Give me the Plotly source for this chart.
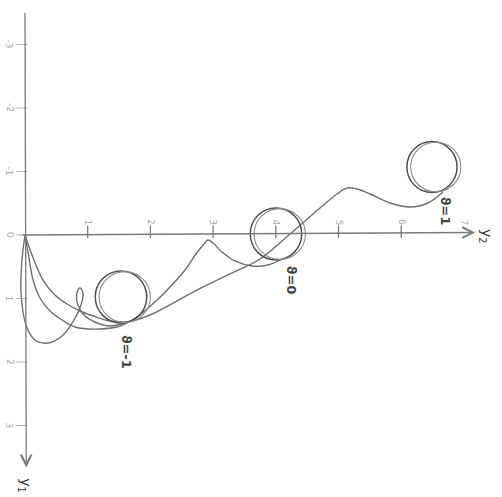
import plotly.graph_objects as go

# Trajectories in the (y2, y1) plane for three values of theta
traj_m1_y2 = [0.0, -0.048, -0.064, 0.016, 0.159, 0.367, 0.590, 0.781, 0.893, 0.925, 0.877, 0.829, 0.845, 0.941, 1.116, 1.356, 1.579]
traj_m1_y1 = [0.0, 0.394, 0.898, 1.417, 1.654, 1.701, 1.591, 1.339, 1.102, 0.913, 0.835, 0.913, 1.102, 1.260, 1.370, 1.433, 1.386]

traj_0_y2 = [0.0, 0.064, 0.128, 0.239, 0.399, 0.590, 0.797, 1.196, 1.515, 1.786, 2.073, 2.313, 2.552, 2.727, 2.855, 2.919, 2.998, 3.142, 3.349, 3.620, 3.876, 4.099]
traj_0_y1 = [0.0, 0.362, 0.709, 0.992, 1.197, 1.339, 1.449, 1.480, 1.433, 1.291, 1.055, 0.819, 0.551, 0.299, 0.142, 0.079, 0.126, 0.268, 0.409, 0.488, 0.472, 0.378]

traj_p1_y2 = [0.0, 0.112, 0.287, 0.478, 0.670, 0.877, 1.085, 1.356, 1.627, 1.994, 2.711, 3.270, 3.748, 4.226, 4.705, 4.976, 5.136, 5.295, 5.502, 5.821, 6.140, 6.427, 6.667]
traj_p1_y1 = [0.0, 0.315, 0.709, 0.945, 1.087, 1.197, 1.276, 1.355, 1.370, 1.260, 0.882, 0.614, 0.378, -0.016, -0.425, -0.646, -0.740, -0.724, -0.646, -0.504, -0.441, -0.504, -0.677]

# Limit cycles: centre (y2, y1) and radius
cycle_theta = ["ϑ=-1", "ϑ=0", "ϑ=1"]
cycle_y2 = [1.531, 4.003, 6.491]
cycle_y1 = [0.976, -0.016, -1.071]
cycle_r = [0.41, 0.41, 0.40]

# Label anchor positions for each theta
label_y2 = [1.61, 4.24, 6.70]
label_y1 = [1.84, 0.72, -0.38]

# Axis ticks
y2_ticks = [1, 2, 3, 4, 5, 6, 7]
y1_ticks = [-3, -2, -1, 0, 1, 2, 3]

curve_color = "#6f6f6f"
cycle_color = "#505050"
axis_color = "#7a7a7a"
tick_label_color = "#a8a8a8"

fig = go.Figure()

for xs, ys in [(traj_m1_y2, traj_m1_y1), (traj_0_y2, traj_0_y1), (traj_p1_y2, traj_p1_y1)]:
    fig.add_trace(go.Scatter(
        x=xs, y=ys, mode="lines",
        line=dict(color=curve_color, width=1.4, shape="spline", smoothing=1.0),
        hoverinfo="skip", showlegend=False,
    ))

# Limit cycles drawn with a doubled pen stroke
for cx, cy, r in zip(cycle_y2, cycle_y1, cycle_r):
    fig.add_shape(type="circle", xref="x", yref="y",
                  x0=cx - r, x1=cx + r, y0=cy - r, y1=cy + r,
                  line=dict(color=cycle_color, width=1.5))
    fig.add_shape(type="circle", xref="x", yref="y",
                  x0=cx - r + 0.06, x1=cx + r + 0.06, y0=cy - r + 0.01, y1=cy + r - 0.01,
                  line=dict(color="#8a8a8a", width=1.1))

# Axes with open arrow heads
fig.add_annotation(x=7.18, y=-0.04, ax=-0.06, ay=0.0, xref="x", yref="y", axref="x", ayref="y",
                   text="", showarrow=True, arrowhead=5, arrowsize=1.6, arrowwidth=1.3,
                   arrowcolor=axis_color)
fig.add_annotation(x=0.02, y=3.66, ax=0.0, ay=-3.52, xref="x", yref="y", axref="x", ayref="y",
                   text="", showarrow=True, arrowhead=5, arrowsize=1.6, arrowwidth=1.3,
                   arrowcolor=axis_color)

# Tick marks
fig.add_trace(go.Scatter(
    x=y2_ticks[:-1], y=[-0.05] * (len(y2_ticks) - 1), mode="markers",
    marker=dict(symbol="line-ns", size=9, line=dict(color=axis_color, width=1.3)),
    hoverinfo="skip", showlegend=False,
))
fig.add_trace(go.Scatter(
    x=[-0.05] * len(y1_ticks), y=y1_ticks, mode="markers",
    marker=dict(symbol="line-ew", size=8, line=dict(color="#b0b0b0", width=1.0)),
    hoverinfo="skip", showlegend=False,
))

# Rotated tick labels
for t in y2_ticks:
    fig.add_annotation(x=t, y=-0.2, xref="x", yref="y", text=str(t), showarrow=False,
                       textangle=90, font=dict(family="DejaVu Sans", size=9, color=tick_label_color))
for t in y1_ticks:
    fig.add_annotation(x=-0.24, y=t, xref="x", yref="y", text=str(t), showarrow=False,
                       textangle=90, font=dict(family="DejaVu Sans", size=9, color=tick_label_color))

# Axis names
fig.add_annotation(x=7.35, y=0.03, xref="x", yref="y", text="y<sub>2</sub>", showarrow=False,
                   textangle=90, font=dict(family="DejaVu Sans", size=14, color="#3a3a3a"))
fig.add_annotation(x=0.0, y=3.94, xref="x", yref="y", text="y<sub>1</sub>", showarrow=False,
                   textangle=90, font=dict(family="DejaVu Sans", size=14, color="#3a3a3a"))

# Theta labels
for txt, lx, ly in zip(cycle_theta, label_y2, label_y1):
    fig.add_annotation(x=lx, y=ly, xref="x", yref="y", text="<b>" + txt + "</b>", showarrow=False,
                       textangle=90, font=dict(family="DejaVu Sans", size=13, color="#404040"))

fig.update_layout(
    width=502, height=497, autosize=False,
    margin=dict(l=0, r=0, t=0, b=0),
    paper_bgcolor="white", plot_bgcolor="white",
    xaxis=dict(range=[-0.3987, 7.6077], visible=False, fixedrange=True),
    yaxis=dict(range=[4.126, -3.7008], visible=False, fixedrange=True),
)

fig.write_html("out.html")
